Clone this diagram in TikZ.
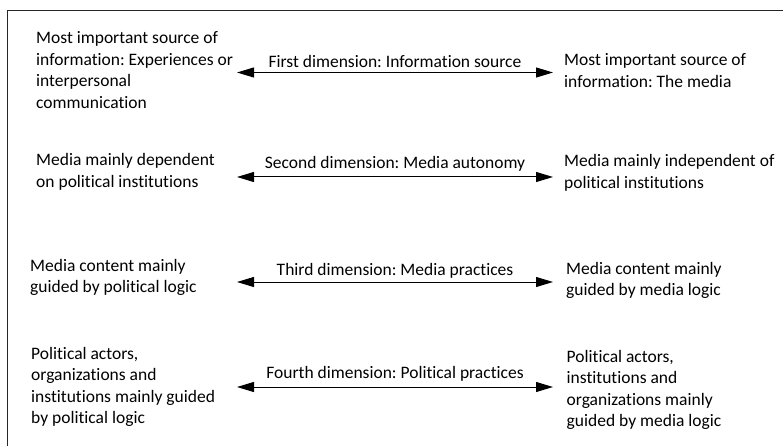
\documentclass[tikz,border=0pt]{standalone}
\usepackage{fontspec}
\setmainfont{Carlito}[Ligatures=NoCommon]
\frenchspacing
\usetikzlibrary{arrows.meta}
\begin{document}
\begin{tikzpicture}[x=1pt,y=-1pt,
  % multi-line poles are placed by the baseline of their last line
  pole/.style={anchor=base west,align=left,inner sep=0pt,
    font=\fontsize{17.5}{21.5}\selectfont},
  dimlabel/.style={anchor=base,inner sep=0pt,
    font=\fontsize{17.5}{21.5}\selectfont},
  dimarrow/.style={line width=1pt,
    {Triangle[length=17pt,width=10pt]}-{Triangle[length=17pt,width=10pt]}},
  frameline/.style={line width=1pt,draw=black!85}]
\useasboundingbox (0,0) rectangle (783,446);

% open frame: left and top edges only
\coordinate (fb) at (7,446);
\coordinate (fc) at (7,11);
\coordinate (fr) at (783,11);
\draw[frameline] (fb) -- (fc) -- (fr);

% first dimension
\node[pole] (l1) at (36,108.5) {Most important source of\\information: Experiences or\\interpersonal\\communication};
\node[pole] (r1) at (564,87.5) {Most important source of\\information: The media};
\coordinate (a1l) at (237,72.5);
\coordinate (a1r) at (553,72.5);
\draw[dimarrow] (a1l) -- (a1r);
\node[dimlabel] (d1) at (395,67.5) {First dimension: Information source};

% second dimension
\node[pole] (l2) at (36,187.5) {Media mainly dependent\\on political institutions};
\node[pole] (r2) at (564,188.5) {Media mainly independent of\\political institutions};
\coordinate (a2l) at (237,177);
\coordinate (a2r) at (553,177);
\draw[dimarrow] (a2l) -- (a2r);
\node[dimlabel] (d2) at (395,169) {Second dimension: Media autonomy};

% third dimension
\node[pole] (l3) at (30,292.5) {Media content mainly\\guided by political logic};
\node[pole] (r3) at (566,295.5) {Media content mainly\\guided by media logic};
\coordinate (a3l) at (237,282);
\coordinate (a3r) at (553,282);
\draw[dimarrow] (a3l) -- (a3r);
\node[dimlabel] (d3) at (395,275) {Third dimension: Media practices};

% fourth dimension
\node[pole] (l4) at (31,423.5) {Political actors,\\organizations and\\institutions mainly guided\\by political logic};
\node[pole] (r4) at (566.5,426.5) {Political actors,\\institutions and\\organizations mainly\\guided by media logic};
\coordinate (a4l) at (237,387);
\coordinate (a4r) at (553,387);
\draw[dimarrow] (a4l) -- (a4r);
\node[dimlabel] (d4) at (395,378.5) {Fourth dimension: Political practices};
\end{tikzpicture}
\end{document}
